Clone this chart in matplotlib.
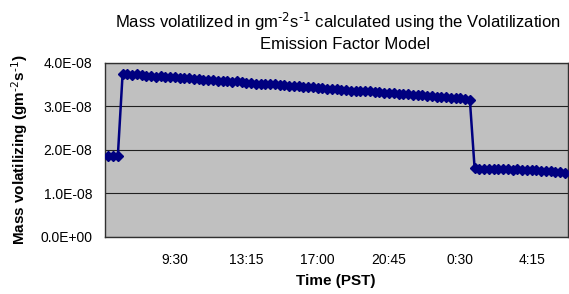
import matplotlib
matplotlib.use("Agg")
import matplotlib.pyplot as plt
import pandas as pd

plt.rcParams["font.family"] = ["Liberation Sans", "DejaVu Sans"]
plt.rcParams["mathtext.default"] = "regular"

# 15-minute intervals, 6:00 to 6:00 next day
times = [t.strftime("%-H:%M") for t in pd.date_range("2000-01-01 06:00", periods=97, freq="15min")]

# mass volatilized (x1e-8 gm-2 s-1)
low_start = [1.86, 1.86, 1.86]
day_vals = [
    3.74, 3.73, 3.72, 3.73, 3.71, 3.70, 3.70, 3.68, 3.69, 3.67,
    3.66, 3.67, 3.65, 3.64, 3.64, 3.62, 3.63, 3.61, 3.60, 3.61,
    3.59, 3.58, 3.58, 3.56, 3.57, 3.55, 3.54, 3.54, 3.52, 3.52,
    3.51, 3.50, 3.50, 3.48, 3.48, 3.47, 3.46, 3.46, 3.44, 3.44,
    3.43, 3.42, 3.42, 3.40, 3.40, 3.39, 3.38, 3.38, 3.36, 3.36,
    3.35, 3.34, 3.34, 3.32, 3.32, 3.31, 3.30, 3.30, 3.28, 3.28,
    3.27, 3.26, 3.26, 3.25, 3.24, 3.24, 3.22, 3.22, 3.21, 3.20,
    3.19, 3.18, 3.16, 3.14,
]
night_vals = [
    1.57, 1.56, 1.56, 1.56, 1.55, 1.56, 1.55, 1.55, 1.54, 1.55,
    1.54, 1.54, 1.53, 1.54, 1.52, 1.51, 1.50, 1.49, 1.48, 1.47,
]
mass = [v * 1e-8 for v in low_start + day_vals + night_vals]

y_ticks = [0.0, 1e-8, 2e-8, 3e-8, 4e-8]
y_labels = ["0.0E+00", "1.0E-08", "2.0E-08", "3.0E-08", "4.0E-08"]

units = r"gm$^{\text{-2}}$s$^{\text{-1}}$"

fig = plt.figure(figsize=(5.69, 2.94), dpi=100)
ax = fig.add_axes([0.1837, 0.195, 0.8143, 0.5917])
ax.set_facecolor("#c0c0c0")

x = list(range(len(mass)))
ax.plot(x, mass, color="#000080", lw=1.8, marker="D", ms=5.5,
        markeredgecolor="#000080", zorder=3)

ax.set_xlim(-0.8, len(mass) - 0.4)
ax.set_ylim(0, 4e-8)
ax.set_yticks(y_ticks)
ax.set_yticklabels(y_labels, fontsize=10)
tick_idx = list(range(14, len(mass), 15))
ax.set_xticks(tick_idx)
ax.set_xticklabels([times[i] for i in tick_idx], fontsize=10)
ax.tick_params(axis="x", length=0, pad=12)
ax.tick_params(axis="y", length=0, pad=9)
ax.grid(axis="y", color="#202020", lw=0.8)
ax.set_axisbelow(True)
for s in ax.spines.values():
    s.set_color("#303030")
    s.set_linewidth(1.0)

ax.set_xlabel("Time (PST)", fontsize=11, fontweight="bold", labelpad=5)
ax.set_ylabel("Mass volatilizing (" + units + ")", fontsize=11,
              fontweight="bold", labelpad=7)

fig.text(0.594, 0.925, "Mass volatilized in " + units + " calculated using the Volatilization",
         ha="center", va="center", fontsize=12)
fig.text(0.606, 0.85, "Emission Factor Model", ha="center", va="center", fontsize=12)

fig.savefig("out.png", dpi=100)
